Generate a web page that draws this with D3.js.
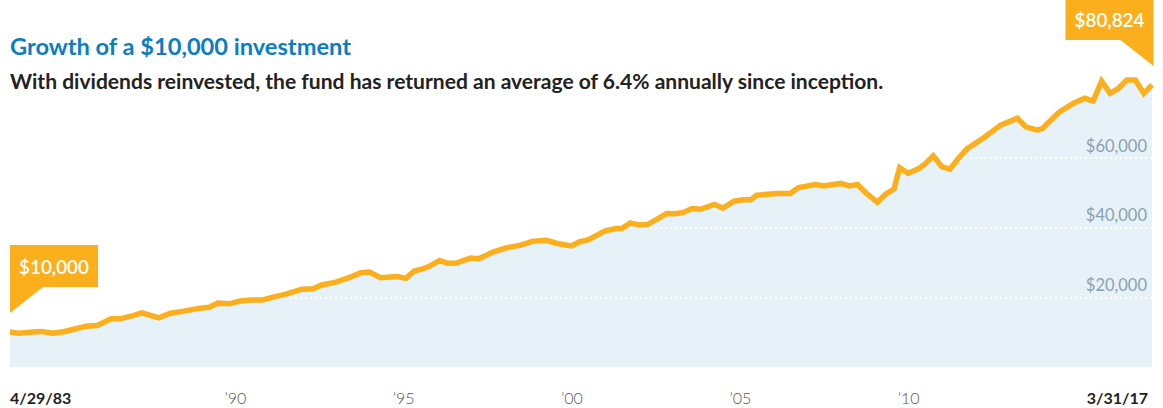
<!DOCTYPE html>
<html>
<head>
<meta charset="utf-8">
<script src="https://cdn.jsdelivr.net/npm/d3@7"></script>
<style>
  html, body { margin: 0; padding: 0; background: #fff; }
  svg { display: block; }
  text { font-family: Lato, "Open Sans", sans-serif; }
</style>
</head>
<body>
<svg id="chart" width="1163" height="408"></svg>
<script>
// Value of a $10,000 investment, dividends reinvested
const dates = [
  "1983-04-29","1983-08-01","1984-01-01","1984-04-01","1984-08-01","1984-12-01",
  "1985-04-01","1985-08-01","1985-12-01","1986-05-01","1986-08-01","1987-01-01",
  "1987-04-01","1987-10-01","1988-02-01","1988-07-01","1988-12-01","1989-04-01",
  "1989-07-01","1989-11-01","1990-03-01","1990-07-01","1990-11-01","1991-03-01",
  "1991-07-01","1992-01-01","1992-05-01","1992-08-01","1993-01-01","1993-06-01",
  "1993-10-01","1994-01-01","1994-05-01","1994-11-01","1995-02-01","1995-05-01",
  "1995-08-01","1995-10-01","1996-02-01","1996-05-01","1996-08-01","1997-01-01",
  "1997-04-01","1997-09-01","1998-02-01","1998-07-01","1998-11-01","1999-04-01",
  "1999-08-01","2000-01-01","2000-04-01","2000-07-01","2001-01-01","2001-05-01",
  "2001-07-01","2001-10-01","2002-01-01","2002-04-01","2002-07-01","2002-11-01",
  "2003-02-01","2003-05-01","2003-08-01","2003-11-01","2004-04-01","2004-07-01",
  "2004-11-01","2005-02-01","2005-05-01","2005-07-01","2005-10-01","2006-02-01",
  "2006-07-01","2006-10-01","2007-04-01","2007-07-01","2008-01-01","2008-04-01",
  "2008-07-01","2008-10-01","2009-02-01","2009-05-01","2009-08-01","2009-10-01",
  "2010-01-01","2010-05-01","2010-07-01","2010-10-01","2011-01-01","2011-04-01",
  "2011-07-01","2011-10-01","2012-04-01","2012-10-01","2013-04-01","2013-07-01",
  "2013-11-01","2014-01-01","2014-04-01","2014-07-01","2014-12-01","2015-04-01",
  "2015-07-01","2015-10-01","2016-01-01","2016-04-01","2016-07-01","2016-10-01",
  "2017-01-01","2017-03-31"
];
const values = [
  10000, 9700, 10000, 10200, 9700, 10100,
  10900, 11700, 11900, 13800, 13800, 14800,
  15500, 14100, 15400, 16000, 16800, 17100,
  18300, 18100, 18900, 19200, 19200, 20100,
  20800, 22300, 22400, 23500, 24300, 25700,
  27000, 27200, 25600, 25900, 25400, 27500,
  28100, 28700, 30500, 29700, 29800, 31200,
  31000, 32900, 34200, 34900, 36000, 36300,
  35400, 34700, 35900, 36400, 39000, 39700,
  39700, 41300, 40700, 40800, 42100, 44000,
  43900, 44300, 45400, 45200, 46600, 45500,
  47500, 47900, 47900, 49200, 49400, 49700,
  49700, 51400, 52300, 51900, 52600, 51900,
  52300, 49900, 47200, 49500, 51000, 57100,
  55500, 56900, 58100, 60500, 57400, 56700,
  59800, 62500, 65700, 69300, 71300, 68800,
  67900, 68400, 70800, 73100, 75600, 77000,
  76200, 81900, 78400, 79800, 82200, 82200,
  78400, 80824
];
const yTickValues = [20000, 40000, 60000];
const xTickYears = [1990, 1995, 2000, 2005, 2010];
const startLabel = "4/29/83";
const endLabel = "3/31/17";
const titleText = "Growth of a $10,000 investment";
const subtitleText = "With dividends reinvested, the fund has returned an average of 6.4% annually since inception.";

const parse = d3.timeParse("%Y-%m-%d");
const data = dates.map((d, i) => ({ date: parse(d), value: values[i] }));

const svg = d3.select("#chart");
const left = 10, right = 1152, bottom = 367;

const x = d3.scaleTime()
  .domain(d3.extent(data, d => d.date))
  .range([left, right]);
const y = d3.scaleLinear()
  .domain([0, 100000])
  .range([bottom, 18]);

const orange = "#fbaf1c";

// shaded area under the line
svg.append("path")
  .datum(data)
  .attr("fill", "#e7f1f8")
  .attr("d", d3.area().x(d => x(d.date)).y0(y(0)).y1(d => y(d.value)));

// dotted white gridlines
const grid = svg.append("g")
  .call(d3.axisRight(y).tickValues(yTickValues).tickSize(right - left).tickFormat(""))
  .attr("transform", `translate(${left},0)`);
grid.select(".domain").remove();
grid.selectAll(".tick line")
  .attr("stroke", "#ffffff")
  .attr("stroke-width", 2)
  .attr("stroke-dasharray", "2,3");

// y tick labels
svg.append("g")
  .selectAll("text")
  .data(yTickValues)
  .join("text")
  .attr("x", right - 5)
  .attr("y", d => y(d) - 6)
  .attr("text-anchor", "end")
  .attr("fill", "#8aa1af")
  .attr("font-size", 16.5)
  .text(d => d3.format("$,")(d));

// the growth line
svg.append("path")
  .datum(data)
  .attr("fill", "none")
  .attr("stroke", orange)
  .attr("stroke-width", 5.5)
  .attr("stroke-linejoin", "miter")
  .attr("d", d3.line().x(d => x(d.date)).y(d => y(d.value)));

// x axis labels
const xAxis = svg.append("g")
  .attr("transform", `translate(0,${bottom})`)
  .call(d3.axisBottom(x)
    .tickValues(xTickYears.map(yr => new Date(yr, 0, 1)))
    .tickSize(0).tickPadding(0)
    .tickFormat(d3.timeFormat("\u2019%y")));
xAxis.select(".domain").remove();
xAxis.selectAll(".tick text")
  .attr("y", 37).attr("dy", null)
  .attr("fill", "#555")
  .attr("font-size", 16)
  .attr("font-family", "Lato, sans-serif")
  .attr("font-weight", 300);

const first = data[0], last = data[data.length - 1];
svg.append("text")
  .attr("x", x(first.date)).attr("y", bottom + 37)
  .attr("font-size", 16).attr("font-weight", 700).attr("fill", "#222")
  .text(startLabel);
svg.append("text")
  .attr("x", x(last.date) - 4).attr("y", bottom + 37)
  .attr("text-anchor", "end")
  .attr("font-size", 16).attr("font-weight", 700).attr("fill", "#222")
  .text(endLabel);

// callout flags at both ends of the line
function callout(pt, side) {
  const tipX = x(pt.date) + (side === "left" ? 0 : 1.5);
  const tipY = y(pt.value) - 19;
  const boxW = 88, boxH = 42, tailW = 33, tailH = 26;
  const bY = tipY - tailH;
  let pts, cx;
  if (side === "left") {
    pts = [[tipX, bY - boxH], [tipX + boxW, bY - boxH], [tipX + boxW, bY],
           [tipX + tailW, bY], [tipX, tipY]];
    cx = tipX + boxW / 2;
  } else {
    pts = [[tipX, bY - boxH], [tipX, tipY], [tipX - tailW, bY],
           [tipX - boxW, bY], [tipX - boxW, bY - boxH]];
    cx = tipX - boxW / 2;
  }
  svg.append("polygon")
    .attr("points", pts.map(p => p.join(",")).join(" "))
    .attr("fill", orange);
  const label = svg.append("text")
    .attr("x", cx).attr("y", bY - 13)
    .attr("text-anchor", "middle")
    .attr("fill", "#fff")
    .attr("font-size", 19)
    .attr("font-weight", 600)
    .text(d3.format("$,")(pt.value));
  fitText(label, 70);
}

// scale a text's font size so that it spans the given width
function fitText(sel, width) {
  const size = +sel.attr("font-size");
  const w = sel.node().getComputedTextLength();
  sel.attr("font-size", size * width / w);
}

callout(first, "left");
callout(last, "right");

// heading text
const title = svg.append("text")
  .attr("x", 10).attr("y", 55)
  .attr("fill", "#0a7dc3")
  .attr("font-size", 22)
  .attr("font-weight", 700)
  .text(titleText);
fitText(title, 341);

const sub = svg.append("text")
  .attr("x", 10).attr("y", 89)
  .attr("fill", "#222")
  .attr("font-size", 19)
  .attr("font-weight", 700)
  .text(subtitleText);
fitText(sub, 874);
</script>
</body>
</html>
